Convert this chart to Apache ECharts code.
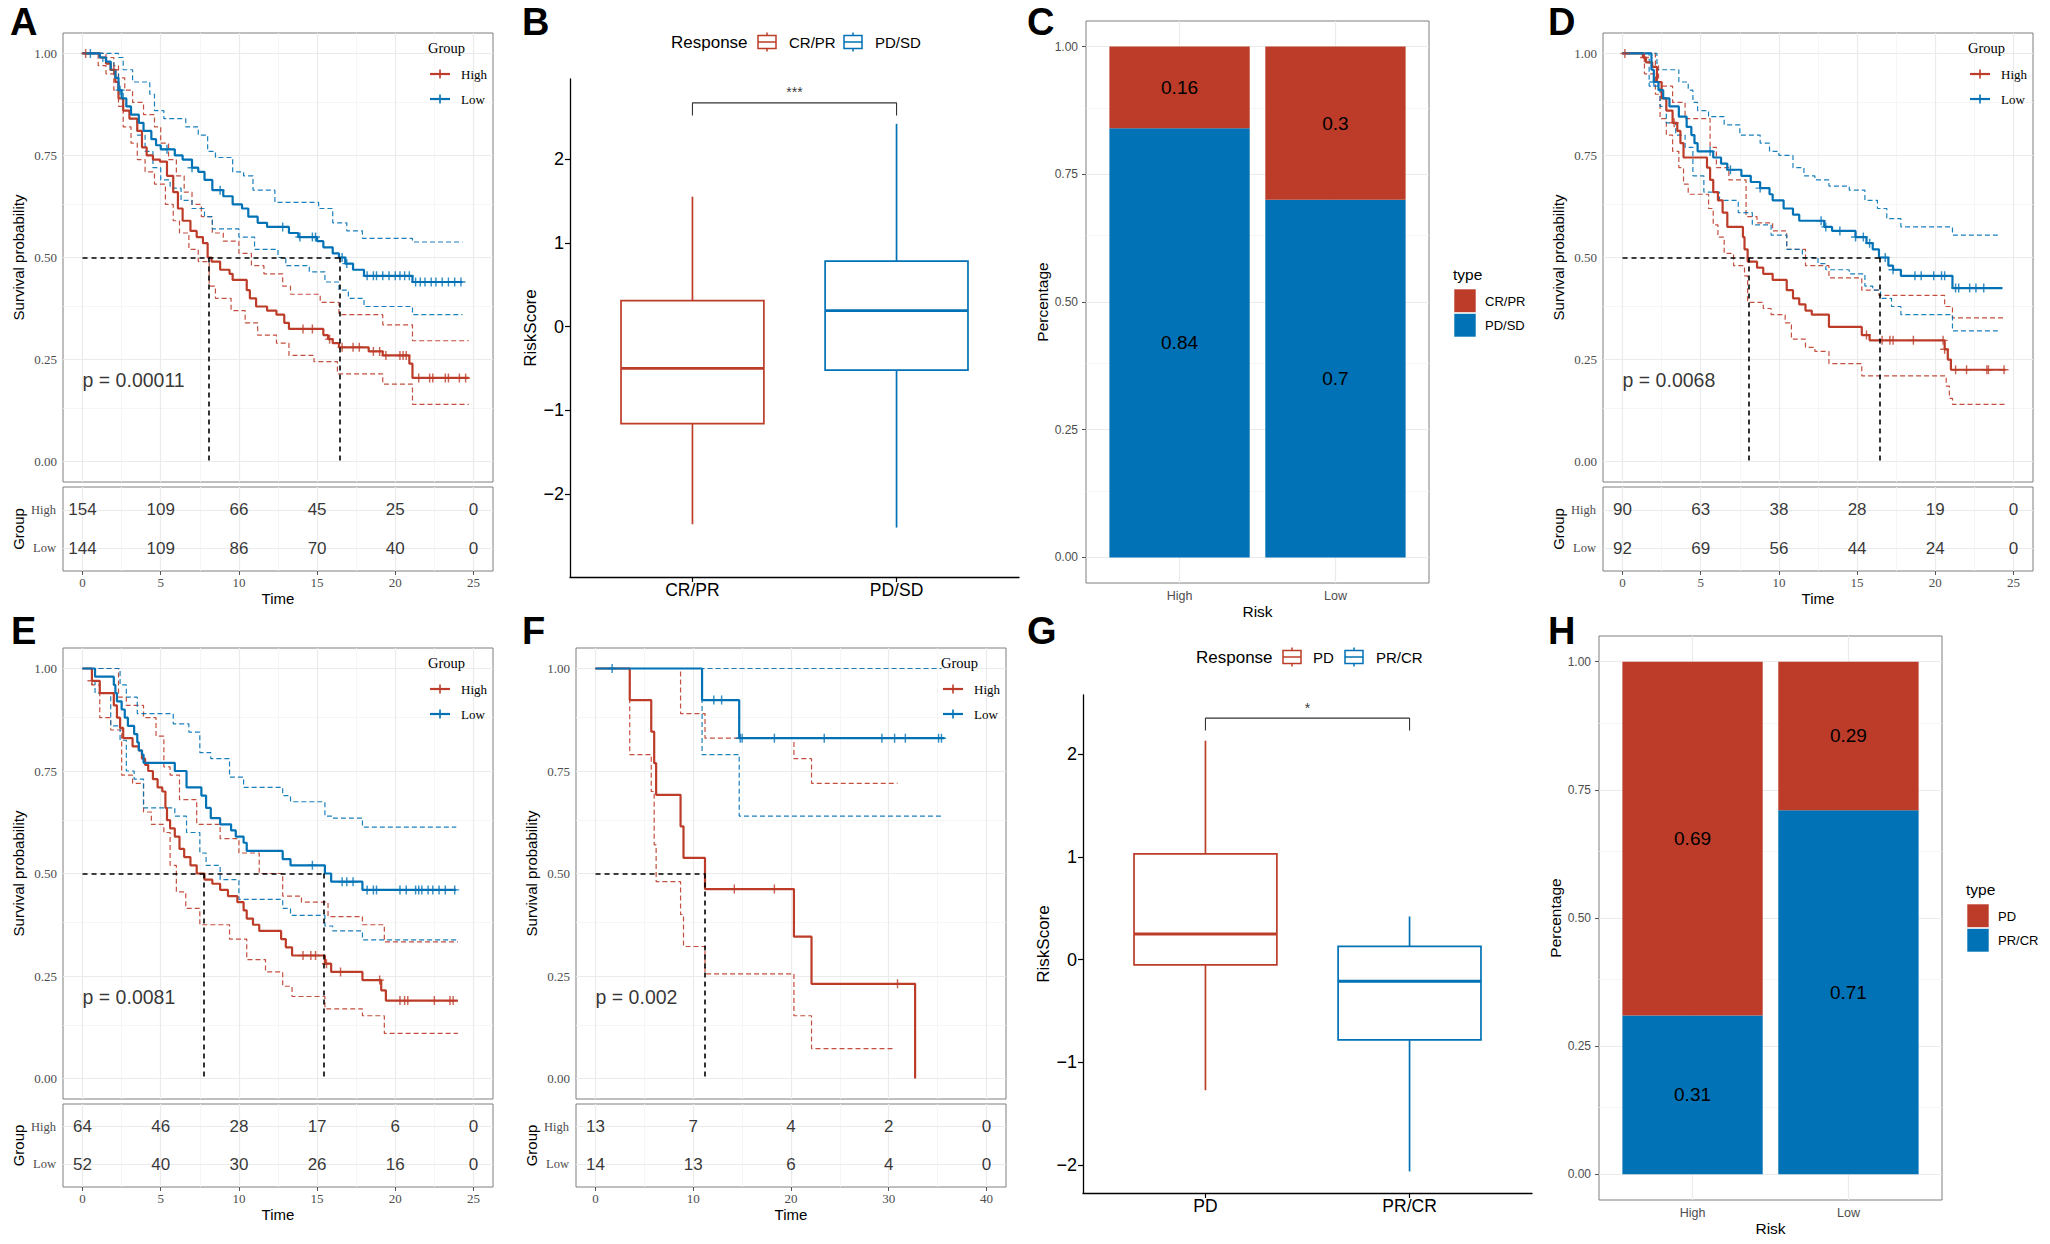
<!DOCTYPE html>
<html><head><meta charset="utf-8">
<script src="https://cdn.jsdelivr.net/npm/echarts@6/dist/echarts.min.js"></script>
<style>html,body{margin:0;padding:0;background:#fff}#c{width:2050px;height:1244px}</style>
</head><body><div id="c"></div>
<script>
// ================= DATA =================
const kmGroups = ['High', 'Low'];
const timesA = [0, 5, 10, 15, 20, 25];
const timesF = [0, 10, 20, 30, 40];
const survTicks = [0, 0.25, 0.5, 0.75, 1];

// Panel A
const A_high = [[0,1],[1.1,0.99],[1.5,0.975],[1.8,0.96],[2.1,0.93],[2.3,0.89],[2.6,0.86],[3.0,0.84],[3.5,0.81],[3.8,0.77],[4.1,0.75],[4.5,0.74],[4.95,0.735],[5.4,0.70],[5.8,0.66],[6.1,0.62],[6.4,0.59],[6.9,0.565],[7.3,0.55],[7.7,0.535],[8.0,0.50],[8.25,0.49],[8.8,0.47],[9.4,0.46],[9.6,0.445],[10.5,0.42],[10.7,0.40],[11.1,0.38],[11.8,0.37],[12.4,0.36],[12.9,0.34],[13.2,0.325],[15.4,0.31],[15.7,0.30],[16.0,0.29],[16.4,0.28],[18.3,0.27],[19.2,0.26],[20.9,0.24],[21.1,0.205],[24.7,0.205]];
const A_low = [[0,1],[1.1,0.99],[1.5,0.98],[1.8,0.96],[2.1,0.94],[2.3,0.91],[2.5,0.89],[2.8,0.87],[3.1,0.85],[3.6,0.83],[3.9,0.81],[4.4,0.79],[4.7,0.775],[5.0,0.765],[5.9,0.75],[6.4,0.74],[7.0,0.72],[7.4,0.71],[7.8,0.69],[8.3,0.665],[9.0,0.65],[9.6,0.63],[10.2,0.62],[10.6,0.60],[11.2,0.585],[11.8,0.575],[13.2,0.56],[13.8,0.55],[15.0,0.54],[15.4,0.525],[16.0,0.51],[16.4,0.50],[16.8,0.485],[17.3,0.47],[18.0,0.455],[21.1,0.44],[24.3,0.44]];
const A_highUp = [[0,1],[1.5,0.99],[2.0,0.97],[2.3,0.94],[2.7,0.91],[3.2,0.88],[3.9,0.85],[4.6,0.82],[5.0,0.78],[5.5,0.74],[6.0,0.70],[6.5,0.66],[7.0,0.63],[7.6,0.60],[8.3,0.56],[9.0,0.54],[10.0,0.51],[10.8,0.48],[11.6,0.46],[12.8,0.43],[13.3,0.41],[15.2,0.39],[16.4,0.36],[19.2,0.335],[21.1,0.296],[24.7,0.296]];
const A_highLo = [[0,1],[1.0,0.97],[1.5,0.95],[2.0,0.91],[2.3,0.87],[2.6,0.82],[3.1,0.78],[3.5,0.74],[4.0,0.71],[4.6,0.68],[5.3,0.63],[5.8,0.59],[6.2,0.56],[6.8,0.52],[7.4,0.49],[8.1,0.43],[8.5,0.40],[9.5,0.37],[10.4,0.34],[11.2,0.31],[12.4,0.29],[13.2,0.26],[14.8,0.245],[16.3,0.215],[19.2,0.19],[21.1,0.14],[24.7,0.14]];
const A_lowUp = [[0,1],[2.3,0.99],[2.6,0.96],[3.2,0.93],[4.3,0.90],[4.6,0.86],[5.2,0.84],[6.6,0.82],[7.4,0.80],[8.0,0.76],[8.5,0.745],[9.6,0.71],[10.3,0.70],[10.9,0.665],[12.3,0.635],[15.1,0.62],[16.0,0.585],[16.9,0.565],[17.9,0.547],[21.1,0.538],[24.3,0.538]];
const A_lowLo = [[0,1],[1.3,0.98],[2.0,0.95],[2.3,0.91],[2.6,0.87],[3.0,0.84],[3.5,0.80],[4.0,0.76],[4.5,0.72],[5.0,0.69],[5.6,0.67],[6.3,0.64],[7.0,0.62],[7.8,0.60],[8.3,0.57],[10.0,0.55],[11.0,0.52],[12.5,0.50],[13.0,0.48],[14.5,0.465],[15.5,0.44],[16.4,0.42],[17.0,0.40],[18.0,0.38],[21.1,0.36],[24.3,0.36]];
const A_highCens = [0.2,2.0,14.1,14.7,15.8,16.6,17.3,17.7,18.6,19.0,19.4,20.3,20.5,20.7,21.5,22.2,22.4,23.2,23.4,24.1,24.5];
const A_lowCens = [0.5,2.4,5.4,7.0,8.8,12.8,13.9,14.7,14.9,16.6,16.9,18.2,18.6,18.8,19.2,19.6,20.0,20.3,20.6,20.9,21.3,21.6,21.9,22.3,22.6,23.0,23.4,23.8,24.2];
const A_medians = [8.1, 16.45];
const A_riskHigh = [154, 109, 66, 45, 25, 0];
const A_riskLow = [144, 109, 86, 70, 40, 0];
const A_pval = 'p = 0.00011';

// Panel D
const D_high = [[0,1],[1.3,0.99],[1.5,0.978],[1.9,0.967],[2.2,0.93],[2.5,0.89],[2.8,0.86],[3.2,0.83],[3.5,0.81],[3.7,0.78],[3.9,0.745],[5.4,0.72],[5.6,0.69],[5.8,0.66],[6.1,0.64],[6.4,0.61],[6.7,0.575],[7.7,0.55],[7.8,0.52],[8.0,0.49],[8.6,0.475],[9.0,0.46],[9.6,0.445],[10.5,0.42],[10.9,0.40],[11.3,0.385],[11.7,0.37],[12.1,0.36],[13.2,0.33],[15.3,0.31],[15.8,0.297],[20.6,0.275],[20.8,0.25],[21.0,0.225],[24.5,0.225]];
const D_low = [[0,1],[1.85,0.96],[2.0,0.93],[2.3,0.91],[2.6,0.89],[3.0,0.87],[3.6,0.845],[4.1,0.82],[4.4,0.80],[4.6,0.78],[4.8,0.76],[5.8,0.745],[6.3,0.73],[6.7,0.715],[7.6,0.70],[8.2,0.685],[8.8,0.67],[9.4,0.655],[9.6,0.64],[10.3,0.62],[10.9,0.605],[11.3,0.59],[12.9,0.575],[13.4,0.565],[14.9,0.55],[15.6,0.535],[16.0,0.52],[16.4,0.50],[17.0,0.48],[17.3,0.47],[17.8,0.455],[21.1,0.425],[24.3,0.425]];
const D_highUp = [[0,1],[2.1,0.97],[2.3,0.92],[3.2,0.88],[4.0,0.84],[5.6,0.77],[6.0,0.72],[6.8,0.69],[7.9,0.60],[8.6,0.585],[9.6,0.565],[10.5,0.52],[11.7,0.48],[13.2,0.45],[15.3,0.42],[16.4,0.407],[20.6,0.38],[21.1,0.352],[24.5,0.352]];
const D_highLo = [[0,1],[1.4,0.95],[2.1,0.90],[2.4,0.84],[2.8,0.80],[3.2,0.76],[3.6,0.72],[3.9,0.68],[4.2,0.655],[5.5,0.62],[5.8,0.58],[6.1,0.55],[6.5,0.51],[7.1,0.48],[7.8,0.455],[8.0,0.39],[9.0,0.375],[9.5,0.36],[10.4,0.34],[10.8,0.30],[11.7,0.28],[12.3,0.27],[13.2,0.24],[15.3,0.21],[20.7,0.185],[20.9,0.155],[21.1,0.14],[24.5,0.14]];
const D_lowUp = [[0,1],[2.2,0.96],[3.6,0.93],[4.2,0.91],[4.5,0.88],[4.8,0.86],[5.5,0.845],[6.5,0.825],[7.5,0.80],[8.8,0.78],[9.4,0.76],[10.0,0.75],[10.9,0.72],[11.6,0.70],[12.3,0.69],[13.2,0.675],[14.5,0.665],[15.5,0.64],[16.3,0.62],[16.9,0.595],[17.8,0.575],[21.1,0.555],[24.0,0.555]];
const D_lowLo = [[0,1],[1.7,0.92],[2.4,0.87],[2.8,0.83],[3.4,0.80],[4.0,0.77],[4.5,0.70],[5.2,0.66],[6.2,0.64],[7.4,0.61],[8.3,0.58],[9.5,0.555],[10.5,0.52],[11.5,0.50],[12.5,0.485],[13.0,0.47],[14.5,0.46],[15.5,0.43],[16.0,0.42],[16.5,0.40],[17.2,0.38],[17.8,0.36],[21.1,0.32],[24.0,0.32]];
const D_highCens = [0.15,1.4,3.3,15.6,16.6,17.1,17.3,18.6,20.5,20.6,21.3,22.0,23.3,23.4,24.4];
const D_lowCens = [2.0,5.6,6.9,8.8,12.7,13.0,13.9,14.9,15.4,15.8,16.8,17.3,18.7,19.1,19.9,20.4,20.6,21.3,21.5,22.2,22.6,23.1];
const D_medians = [8.05, 16.44];
const D_riskHigh = [90, 63, 38, 28, 19, 0];
const D_riskLow = [92, 69, 56, 44, 24, 0];
const D_pval = 'p = 0.0068';

// Panel E
const E_high = [[0,1],[0.6,0.97],[1.1,0.94],[2.0,0.91],[2.2,0.88],[2.4,0.855],[2.6,0.83],[3.2,0.81],[3.6,0.80],[3.8,0.78],[4.0,0.765],[4.2,0.75],[4.5,0.73],[4.8,0.71],[5.1,0.70],[5.3,0.66],[5.4,0.63],[5.6,0.61],[5.9,0.59],[6.2,0.56],[6.5,0.54],[6.9,0.52],[7.3,0.50],[7.8,0.485],[8.3,0.475],[8.8,0.46],[9.3,0.445],[9.9,0.43],[10.3,0.41],[10.5,0.39],[10.9,0.375],[11.3,0.36],[12.7,0.34],[13.0,0.32],[13.4,0.30],[15.5,0.28],[15.9,0.26],[17.9,0.24],[19.1,0.215],[19.4,0.19],[24.0,0.19]];
const E_low = [[0,1],[0.8,0.98],[2.0,0.96],[2.1,0.94],[2.2,0.92],[2.5,0.90],[2.7,0.88],[2.9,0.86],[3.3,0.84],[3.5,0.82],[3.6,0.80],[3.8,0.79],[3.9,0.77],[5.9,0.75],[6.65,0.71],[7.6,0.69],[7.9,0.66],[8.2,0.635],[8.8,0.62],[9.5,0.605],[9.8,0.59],[10.3,0.575],[10.5,0.555],[12.8,0.535],[13.3,0.52],[15.5,0.50],[15.9,0.48],[17.9,0.46],[23.9,0.46]];
const E_highUp = [[0,1],[2.3,0.93],[2.8,0.91],[3.9,0.88],[4.7,0.835],[5.2,0.76],[5.6,0.74],[6.2,0.68],[7.3,0.62],[8.8,0.585],[10.0,0.55],[11.3,0.50],[12.8,0.445],[14.0,0.43],[15.7,0.395],[17.9,0.375],[19.3,0.333],[24.0,0.333]];
const E_highLo = [[0,1],[0.6,0.96],[1.1,0.88],[1.8,0.85],[2.5,0.74],[3.2,0.72],[3.9,0.65],[4.4,0.62],[5.2,0.60],[5.6,0.52],[6.0,0.455],[6.6,0.415],[7.5,0.375],[9.4,0.34],[10.5,0.29],[11.7,0.26],[12.8,0.225],[13.4,0.20],[15.5,0.17],[17.9,0.153],[19.3,0.11],[24.0,0.11]];
const E_lowUp = [[0,1],[2.4,0.96],[2.8,0.93],[3.5,0.89],[5.8,0.865],[6.8,0.845],[7.5,0.795],[8.2,0.78],[9.4,0.735],[10.3,0.71],[12.8,0.69],[13.3,0.675],[15.5,0.64],[16.0,0.635],[17.9,0.613],[23.9,0.613]];
const E_lowLo = [[0,1],[0.8,0.94],[1.8,0.86],[2.4,0.825],[2.8,0.75],[3.3,0.73],[3.9,0.66],[5.9,0.64],[6.65,0.60],[7.5,0.55],[7.9,0.52],[8.8,0.485],[10.0,0.437],[12.8,0.415],[13.3,0.398],[15.5,0.372],[16.0,0.36],[17.9,0.338],[23.9,0.338]];
const E_highCens = [0.6,14.1,14.6,14.9,15.6,16.5,19.0,20.3,20.6,20.8,22.5,23.5,23.7];
const E_lowCens = [14.7,16.6,16.9,17.3,18.2,18.6,18.8,20.3,20.7,21.3,21.5,21.7,22.1,22.4,22.8,23.2,23.8];
const E_medians = [7.72, 15.4];
const E_riskHigh = [64, 46, 28, 17, 6, 0];
const E_riskLow = [52, 40, 30, 26, 16, 0];
const E_pval = 'p = 0.0081';

// Panel F
const F_high = [[0,1],[3.5,0.923],[5.7,0.846],[6.0,0.769],[6.2,0.692],[8.7,0.615],[9.0,0.538],[11.2,0.462],[20.3,0.346],[22.1,0.231],[32.7,0]];
const F_low = [[0,1],[10.9,0.923],[14.7,0.83],[35.7,0.83]];
const F_highUp = [[0,1],[8.7,0.89],[11.2,0.83],[20.3,0.78],[22.1,0.72],[30.9,0.72]];
const F_highLo = [[0,1],[3.5,0.79],[5.7,0.70],[6.0,0.57],[6.2,0.48],[8.7,0.40],[9.0,0.322],[11.2,0.255],[20.3,0.153],[22.1,0.073],[30.5,0.073]];
const F_lowUp = [[0,1],[35.4,1]];
const F_lowLo = [[0,1],[10.9,0.79],[14.7,0.64],[35.4,0.64]];
const F_highCens = [14.2, 18.3, 30.9];
const F_lowCens = [1.7,12.1,12.9,14.8,15.0,18.3,23.4,29.3,30.6,31.7,35.1,35.4];
const F_medians = [11.2];
const F_riskHigh = [13, 7, 4, 2, 0];
const F_riskLow = [14, 13, 6, 4, 0];
const F_pval = 'p = 0.002';

// Panel B (boxplot: min, q1, median, q3, max)
const B_groups = ['CR/PR', 'PD/SD'];
const B_stats = [[-2.36, -1.16, -0.50, 0.31, 1.55], [-2.40, -0.52, 0.19, 0.78, 2.42]];
const B_bracket = [2.52, 2.67];
const B_sig = '***';
// Panel G
const G_groups = ['PD', 'PR/CR'];
const G_stats = [[-1.27, -0.05, 0.25, 1.03, 2.13], [-2.06, -0.78, -0.21, 0.13, 0.42]];
const G_bracket = [2.23, 2.35];
const G_sig = '*';
const boxTicks = [-2, -1, 0, 1, 2];

// Panel C (stacked proportions)
const riskCats = ['High', 'Low'];
const C_types = ['CR/PR', 'PD/SD'];
const C_crpr = [0.16, 0.3];
const C_pdsd = [0.84, 0.7];
// Panel H
const H_types = ['PD', 'PR/CR'];
const H_pd = [0.69, 0.29];
const H_prcr = [0.31, 0.71];

// ================= STYLE / BUILD =================
const SANS = '"Liberation Sans", Arial, Helvetica, sans-serif';
const SERIF = '"Liberation Serif", "Times New Roman", serif';
const RED = '#BC3C29', BLUE = '#0072B5';
const MAJOR = '#EBEBEB', MINOR = '#F4F4F4', BORDER = '#7F7F7F', GRAYTXT = '#4D4D4D';
const PLUS = 'path://M0,42L100,42L100,58L0,58Z M42,0L58,0L58,100L42,100Z';

const option = { animation: false, textStyle: { fontFamily: SANS }, grid: [], xAxis: [], yAxis: [], series: [], graphic: [] };

function addGrid(g) { option.grid.push(Object.assign({ outerBoundsMode: 'none' }, g)); return option.grid.length - 1; }
function addAxes(gi, x, y) {
  option.xAxis.push(Object.assign({ type: 'value', gridIndex: gi, splitLine: { show: false }, axisLine: { show: false } }, x));
  option.yAxis.push(Object.assign({ type: 'value', gridIndex: gi, splitLine: { show: false }, axisLine: { show: false } }, y));
  return { xAxisIndex: option.xAxis.length - 1, yAxisIndex: option.yAxis.length - 1 };
}
function gridLines(ax, xs, xm, ys, ym) {
  const d = [];
  xm.forEach(v => d.push({ xAxis: v, lineStyle: { color: MINOR, width: 0.8, type: 'solid' } }));
  ym.forEach(v => d.push({ yAxis: v, lineStyle: { color: MINOR, width: 0.8, type: 'solid' } }));
  xs.forEach(v => d.push({ xAxis: v, lineStyle: { color: MAJOR, width: 1.2, type: 'solid' } }));
  ys.forEach(v => d.push({ yAxis: v, lineStyle: { color: MAJOR, width: 1.2, type: 'solid' } }));
  option.series.push(Object.assign({ type: 'line', data: [], silent: true, z: 1,
    markLine: { silent: true, animation: false, symbol: ['none', 'none'], label: { show: false }, emphasis: { disabled: true }, z: 1, data: d } }, ax));
}
function gtext(str, x, y, size, family, color, extra) {
  return { type: 'text', silent: true, z: 50, style: Object.assign({ text: str, x: x, y: y, fontSize: size, fontFamily: family, fill: color || '#000',
    align: 'left', verticalAlign: 'middle', textAlign: 'left', textVerticalAlign: 'middle' }, extra || {}) };
}
function gline(x1, y1, x2, y2, color, w) { return { type: 'line', silent: true, z: 50, shape: { x1, y1, x2, y2 }, style: { stroke: color, lineWidth: w } }; }
function stepAt(curve, t) { let s = curve[0][1]; for (const p of curve) { if (p[0] <= t) s = p[1]; else break; } return s; }

function buildKM(P) {
  const W = 430;
  const xMinor = [];
  for (let i = 0; i < P.times.length - 1; i++) xMinor.push((P.times[i] + P.times[i + 1]) / 2);
  // main survival plot
  const g1 = addGrid({ left: P.left, top: P.top, width: W, height: P.h, show: true, borderColor: BORDER, borderWidth: 1, backgroundColor: '#fff' });
  const ax = addAxes(g1,
    { min: P.xmin, max: P.xmax, axisTick: { show: true, customValues: P.times, length: 4, lineStyle: { color: '#555' } }, axisLabel: { show: false, customValues: P.times } },
    { min: -0.05, max: 1.05, axisTick: { show: true, customValues: survTicks, length: 4, lineStyle: { color: '#555' } },
      axisLabel: { customValues: survTicks, formatter: v => v.toFixed(2), fontFamily: SERIF, fontSize: 13, color: GRAYTXT, margin: 6 },
      name: 'Survival probability', nameLocation: 'middle', nameRotate: 90, nameGap: 37, nameTextStyle: { fontSize: 15, color: '#000', fontFamily: SANS } });
  gridLines(ax, P.times, xMinor, survTicks, [0.125, 0.375, 0.625, 0.875]);
  const curves = [[P.highUp, RED, 1.2, true], [P.highLo, RED, 1.2, true], [P.lowUp, BLUE, 1.2, true], [P.lowLo, BLUE, 1.2, true],
                  [P.high, RED, 2.2, false], [P.low, BLUE, 2.2, false]];
  curves.forEach(([d, c, w, dash]) => {
    option.series.push(Object.assign({ type: 'line', data: d, step: 'end', symbol: 'none', showSymbol: false, silent: true, z: dash ? 2 : 3,
      lineStyle: { color: c, width: w, type: dash ? [5, 3] : 'solid', opacity: dash ? 0.9 : 1 }, itemStyle: { color: c }, emphasis: { disabled: true } }, ax));
  });
  [[P.high, P.highCens, RED], [P.low, P.lowCens, BLUE]].forEach(([curve, cens, c]) => {
    option.series.push(Object.assign({ type: 'scatter', data: cens.map(t => [t, stepAt(curve, t)]), symbol: PLUS, symbolSize: 9,
      itemStyle: { color: c }, silent: true, z: 4, emphasis: { disabled: true } }, ax));
  });
  const mmax = Math.max.apply(null, P.medians);
  const md = [[{ coord: [0, 0.5] }, { coord: [mmax, 0.5] }]];
  P.medians.forEach(m => md.push([{ coord: [m, 0.5] }, { coord: [m, 0] }]));
  option.series.push(Object.assign({ type: 'line', data: [], silent: true, z: 5,
    markLine: { silent: true, animation: false, symbol: ['none', 'none'], label: { show: false }, z: 5, emphasis: { disabled: true },
      lineStyle: { color: '#000', width: 1.6, type: [5, 4] }, data: md } }, ax));
  option.series.push(Object.assign({ type: 'scatter', data: [[0, 0.2]], symbolSize: 1, itemStyle: { color: 'rgba(0,0,0,0)' }, silent: true, z: 6,
    label: { show: true, position: 'inside', align: 'left', verticalAlign: 'middle', formatter: P.pval, fontSize: 19.5, color: '#000', fontFamily: SANS } }, ax));
  // legend
  const lx = P.left + 365, ly = P.top;
  option.graphic.push(gtext('Group', lx, ly + 15, 14.5, SERIF, '#000'));
  [[kmGroups[0], RED, 41], [kmGroups[1], BLUE, 66]].forEach(([n, c, dy]) => {
    option.graphic.push(gline(lx + 2, ly + dy, lx + 22, ly + dy, c, 2.2));
    option.graphic.push(gline(lx + 12, ly + dy - 4.5, lx + 12, ly + dy + 4.5, c, 1.6));
    option.graphic.push(gtext(n, lx + 33, ly + dy, 13, SERIF, '#000'));
  });
  // risk table
  const g2 = addGrid({ left: P.left, top: P.tTop, width: W, height: P.tH, show: true, borderColor: BORDER, borderWidth: 1, backgroundColor: '#fff' });
  const ax2 = addAxes(g2,
    { min: P.xmin, max: P.xmax, axisTick: { show: true, customValues: P.times, length: 4, lineStyle: { color: '#555' } },
      axisLabel: { customValues: P.times, fontFamily: SERIF, fontSize: 13, color: GRAYTXT, margin: 5 },
      name: 'Time', nameLocation: 'middle', nameGap: 20, nameTextStyle: { fontSize: 15, color: '#000', fontFamily: SANS } },
    { min: 0.4, max: 2.6, axisTick: { show: true, customValues: [1, 2], length: 4, lineStyle: { color: '#555' } },
      axisLabel: { customValues: [1, 2], formatter: v => (v > 1.5 ? kmGroups[0] : kmGroups[1]), fontFamily: SERIF, fontSize: 12.5, color: GRAYTXT, margin: 7 },
      name: 'Group', nameLocation: 'middle', nameRotate: 90, nameGap: 37, nameTextStyle: { fontSize: 15, color: '#000', fontFamily: SANS } });
  gridLines(ax2, P.times, xMinor, [1, 2], []);
  const tdata = P.times.map((t, i) => [t, 2, P.riskHigh[i]]).concat(P.times.map((t, i) => [t, 1, P.riskLow[i]]));
  option.series.push(Object.assign({ type: 'scatter', data: tdata, symbolSize: 1, itemStyle: { color: 'rgba(0,0,0,0)' }, silent: true, z: 6,
    label: { show: true, position: 'inside', formatter: p => String(p.value[2]), fontSize: 17, color: '#000', fontFamily: SANS } }, ax2));
}

function boxRender(color) {
  return function (params, api) {
    const x = api.value(0), mn = api.value(1), q1 = api.value(2), md = api.value(3), q3 = api.value(4), mx = api.value(5);
    const hw = 0.35;
    const a = api.coord([x - hw, q3]), b = api.coord([x + hw, q1]);
    const pmx = api.coord([x, mx]), pq3 = api.coord([x, q3]), pq1 = api.coord([x, q1]), pmn = api.coord([x, mn]);
    const ml = api.coord([x - hw, md]), mr = api.coord([x + hw, md]);
    return { type: 'group', children: [
      { type: 'line', shape: { x1: pmx[0], y1: pmx[1], x2: pq3[0], y2: pq3[1] }, style: { stroke: color, lineWidth: 1.7 } },
      { type: 'line', shape: { x1: pq1[0], y1: pq1[1], x2: pmn[0], y2: pmn[1] }, style: { stroke: color, lineWidth: 1.7 } },
      { type: 'rect', shape: { x: a[0], y: a[1], width: b[0] - a[0], height: b[1] - a[1] }, style: { fill: '#fff', stroke: color, lineWidth: 1.7 } },
      { type: 'line', shape: { x1: ml[0], y1: ml[1], x2: mr[0], y2: mr[1] }, style: { stroke: color, lineWidth: 2.8 } }
    ] };
  };
}
const minusFmt = v => (v < 0 ? '\u2212' + Math.abs(v) : String(v));

function buildBox(P) {
  const gi = addGrid({ left: P.left, top: P.top, width: 449, height: 498 });
  const ax = addAxes(gi,
    { min: 0.4, max: 2.6, axisLine: { show: true, onZero: false, lineStyle: { color: '#000', width: 1.3 } },
      axisTick: { show: true, customValues: [1, 2], length: 5, lineStyle: { color: '#000', width: 1.2 } },
      axisLabel: { customValues: [1, 2], formatter: v => P.groups[Math.round(v) - 1], fontSize: 17.5, color: '#000', margin: 4 } },
    { min: P.ymin, max: P.ymax, axisLine: { show: true, onZero: false, lineStyle: { color: '#000', width: 1.3 } },
      axisTick: { show: true, customValues: boxTicks, length: 5, lineStyle: { color: '#000', width: 1.2 } },
      axisLabel: { customValues: boxTicks, formatter: minusFmt, fontSize: 18, color: '#000', margin: 6 },
      name: 'RiskScore', nameLocation: 'middle', nameRotate: 90, nameGap: 31, nameTextStyle: { fontSize: 17, color: '#000' } });
  P.groups.forEach((g, i) => {
    option.series.push(Object.assign({ type: 'custom', name: g, data: [[i + 1].concat(P.stats[i])], renderItem: boxRender(i === 0 ? RED : BLUE), silent: true, z: 3, clip: false }, ax));
  });
  const [tip, top] = P.bracket;
  option.series.push(Object.assign({ type: 'line', data: [[1, tip], [1, top], [2, top], [2, tip]], symbol: 'none', silent: true, z: 3,
    lineStyle: { color: '#333', width: 1.1 }, emphasis: { disabled: true } }, ax));
  option.series.push(Object.assign({ type: 'scatter', data: [[1.5, top]], symbolSize: 1, itemStyle: { color: 'rgba(0,0,0,0)' }, silent: true, z: 4,
    label: { show: true, position: 'top', distance: 3, formatter: P.sig, fontSize: 14, color: '#000' } }, ax));
  // legend
  const L = P.leg, y = L.y;
  option.graphic.push(gtext('Response', L.title, y, 17, SANS, '#000'));
  [[L.i1, L.t1, RED, P.groups[0]], [L.i2, L.t2, BLUE, P.groups[1]]].forEach(([ix, tx, c, n]) => {
    option.graphic.push({ type: 'rect', silent: true, z: 50, shape: { x: ix, y: y - 6.5, width: 18, height: 13 }, style: { fill: '#fff', stroke: c, lineWidth: 1.5 } });
    option.graphic.push(gline(ix, y, ix + 18, y, c, 1.5));
    option.graphic.push(gline(ix + 9, y - 9.5, ix + 9, y - 6.5, c, 1.5));
    option.graphic.push(gline(ix + 9, y + 6.5, ix + 9, y + 9.5, c, 1.5));
    option.graphic.push(gtext(n, tx, y, 15, SANS, '#000'));
  });
}

function barRender(color) {
  return function (params, api) {
    const x = api.value(0), y0 = api.value(1), y1 = api.value(2), v = api.value(3);
    const p0 = api.coord([x - 0.45, y1]), p1 = api.coord([x + 0.45, y0]);
    return { type: 'group', children: [
      { type: 'rect', shape: { x: p0[0], y: p0[1], width: p1[0] - p0[0], height: p1[1] - p0[1] }, style: { fill: color } },
      { type: 'text', style: { text: String(v), x: (p0[0] + p1[0]) / 2, y: (p0[1] + p1[1]) / 2, fontSize: 19, fontFamily: SANS, fill: '#000',
        align: 'center', verticalAlign: 'middle', textAlign: 'center', textVerticalAlign: 'middle' } }
    ] };
  };
}

function buildBar(P) {
  const gi = addGrid({ left: P.left, top: P.top, width: 343, height: P.h, show: true, borderColor: BORDER, borderWidth: 1, backgroundColor: '#fff' });
  const ax = addAxes(gi,
    { min: 0.4, max: 2.6, axisTick: { show: true, customValues: [1, 2], length: 4, lineStyle: { color: '#555' } },
      axisLabel: { customValues: [1, 2], formatter: v => riskCats[Math.round(v) - 1], fontSize: 12.5, color: GRAYTXT, margin: 6 },
      name: 'Risk', nameLocation: 'middle', nameGap: 20, nameTextStyle: { fontSize: 15.5, color: '#000' } },
    { min: -0.05, max: 1.05, axisTick: { show: true, customValues: survTicks, length: 4, lineStyle: { color: '#555' } },
      axisLabel: { customValues: survTicks, formatter: v => v.toFixed(2), fontSize: 12, color: GRAYTXT, margin: 8 },
      name: 'Percentage', nameLocation: 'middle', nameRotate: 90, nameGap: 36, nameTextStyle: { fontSize: 15.5, color: '#000' } });
  gridLines(ax, [1, 2], [], survTicks, [0.125, 0.375, 0.625, 0.875]);
  option.series.push(Object.assign({ type: 'custom', name: P.types[1], data: P.lower.map((v, i) => [i + 1, 0, v, v]), renderItem: barRender(BLUE), silent: true, z: 3 }, ax));
  option.series.push(Object.assign({ type: 'custom', name: P.types[0], data: P.upper.map((v, i) => [i + 1, P.lower[i], P.lower[i] + v, v]), renderItem: barRender(RED), silent: true, z: 3 }, ax));
  // legend
  const L = P.leg;
  option.graphic.push(gtext('type', L.x - 1, L.y, 15.5, SANS, '#000'));
  option.graphic.push({ type: 'rect', silent: true, z: 50, shape: { x: L.x, y: L.y + 15, width: 22, height: 23.5 }, style: { fill: RED, stroke: '#fff', lineWidth: 0.6 } });
  option.graphic.push({ type: 'rect', silent: true, z: 50, shape: { x: L.x, y: L.y + 39.5, width: 22, height: 23.5 }, style: { fill: BLUE, stroke: '#fff', lineWidth: 0.6 } });
  option.graphic.push(gtext(P.types[0], L.x + 31, L.y + 27, 13, SANS, '#000'));
  option.graphic.push(gtext(P.types[1], L.x + 31, L.y + 51, 13, SANS, '#000'));
}

// ---- assemble panels ----
buildKM({ left: 63, top: 33, h: 449, tTop: 487, tH: 84, xmin: -1.25, xmax: 26.25, times: timesA,
  high: A_high, low: A_low, highUp: A_highUp, highLo: A_highLo, lowUp: A_lowUp, lowLo: A_lowLo,
  highCens: A_highCens, lowCens: A_lowCens, medians: A_medians, riskHigh: A_riskHigh, riskLow: A_riskLow, pval: A_pval });
buildKM({ left: 1603, top: 33, h: 449, tTop: 487, tH: 84, xmin: -1.25, xmax: 26.25, times: timesA,
  high: D_high, low: D_low, highUp: D_highUp, highLo: D_highLo, lowUp: D_lowUp, lowLo: D_lowLo,
  highCens: D_highCens, lowCens: D_lowCens, medians: D_medians, riskHigh: D_riskHigh, riskLow: D_riskLow, pval: D_pval });
buildKM({ left: 63, top: 648, h: 451, tTop: 1104, tH: 83, xmin: -1.25, xmax: 26.25, times: timesA,
  high: E_high, low: E_low, highUp: E_highUp, highLo: E_highLo, lowUp: E_lowUp, lowLo: E_lowLo,
  highCens: E_highCens, lowCens: E_lowCens, medians: E_medians, riskHigh: E_riskHigh, riskLow: E_riskLow, pval: E_pval });
buildKM({ left: 576, top: 648, h: 451, tTop: 1104, tH: 83, xmin: -2, xmax: 42, times: timesF,
  high: F_high, low: F_low, highUp: F_highUp, highLo: F_highLo, lowUp: F_lowUp, lowLo: F_lowLo,
  highCens: F_highCens, lowCens: F_lowCens, medians: F_medians, riskHigh: F_riskHigh, riskLow: F_riskLow, pval: F_pval });

buildBox({ left: 570, top: 79, ymin: -2.99, ymax: 2.955, groups: B_groups, stats: B_stats, bracket: B_bracket, sig: B_sig,
  leg: { y: 42, title: 671, i1: 758, t1: 789, i2: 844, t2: 875 } });
buildBox({ left: 1083, top: 695, ymin: -2.27, ymax: 2.575, groups: G_groups, stats: G_stats, bracket: G_bracket, sig: G_sig,
  leg: { y: 657, title: 1196, i1: 1283, t1: 1313, i2: 1345, t2: 1376 } });

buildBar({ left: 1086, top: 21, h: 562, types: C_types, upper: C_crpr, lower: C_pdsd, leg: { x: 1454, y: 274 } });
buildBar({ left: 1599, top: 636, h: 564, types: H_types, upper: H_pd, lower: H_prcr, leg: { x: 1967, y: 889 } });

// panel letters
[['A', 10, 22], ['B', 522, 22], ['C', 1027, 22], ['D', 1548, 22], ['E', 11, 631], ['F', 522, 631], ['G', 1027, 631], ['H', 1548, 631]]
  .forEach(([t, x, y]) => option.graphic.push(gtext(t, x, y, 38, SANS, '#000', { fontWeight: 'bold' })));

const chart = echarts.init(document.getElementById('c'), null, { renderer: 'svg', width: 2050, height: 1244 });
chart.setOption(option);
</script></body></html>
